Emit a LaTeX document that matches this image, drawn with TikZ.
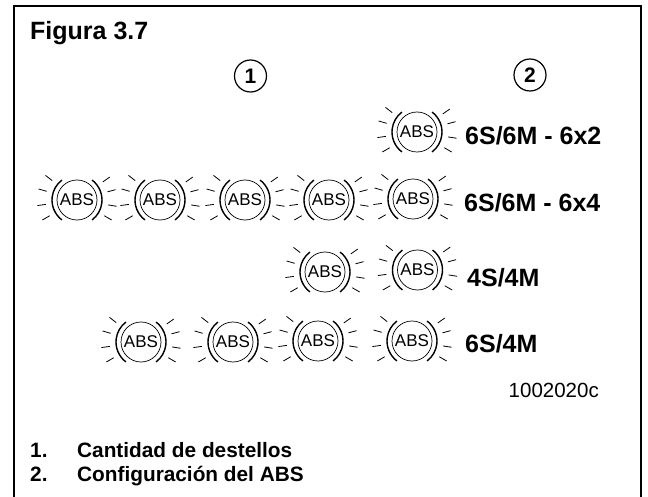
\documentclass[tikz,border=0pt]{standalone}
\usepackage{fontspec}
\setmainfont{Liberation Sans}
\tikzset{
  lbl/.style={font=\fontsize{25}{27}\selectfont\bfseries, anchor=base west, inner sep=0pt},
  note/.style={font=\fontsize{20.8}{23}\selectfont\bfseries, anchor=base west, inner sep=0pt},
  callout/.style={draw, circle, line width=1.2pt, minimum size=32pt, inner sep=0pt, font=\fontsize{21}{23}\selectfont\bfseries},
  absicon/.pic={
    \node[circle, draw, line width=0.7pt, minimum size=40pt, inner sep=0pt, font=\fontsize{17}{18}\selectfont] (-txt) at (0,0) {ABS};
    % flanking arcs
    \draw[line width=1.4pt] (-53:25) arc (-53:53:25);
    \draw[line width=1.4pt] (127:25) arc (127:233:25);
    % rays
    \foreach \a in {-35,-15,9,30,-142,-164,-188,-210}
      \draw[line width=0.8pt] (\a:31.5) -- (\a:40);
  }
}
\begin{document}
\begin{tikzpicture}[x=1pt,y=-1pt]
\useasboundingbox (0,0) rectangle (648,497);
% frame, open at the bottom
\draw[line width=2.4pt] (14,497) -- (14,6) -- (641,6) -- (641,497);

\node[lbl] (title) at (30,40) {Figura 3.7};
\node[callout] (col1) at (250.5,76) {1};
\node[callout] (col2) at (530,75) {2};

% icons of each row
\foreach \name/\x/\y in {a1/417/132,
    b1/77/200, b2/160/200, b3/245/200, b4/329/200, b5/413/199,
    c1/325/272, c2/417.5/270,
    d1/141/342, d2/233/342, d3/318/341, d4/412/341} {
  \pic (\name) at (\x,\y) {absicon};
}

% row labels
\node[lbl] (cfga) at (465,145) {6S/6M - 6x2};
\node[lbl] (cfgb) at (464,212) {6S/6M - 6x4};
\node[lbl] (cfgc) at (467,286) {4S/4M};
\node[lbl] (cfgd) at (465,352) {6S/4M};
\node[anchor=base east, inner sep=0pt, font=\fontsize{20.5}{23}\selectfont] (code) at (599,397) {1002020c};

\node[note] (n1) at (30,457) {1.};
\node[note] (t1) at (77,457) {Cantidad de destellos};
\node[note] (n2) at (30,481) {2.};
\node[note] (t2) at (77,481) {Configuración del ABS};
\end{tikzpicture}
\end{document}
